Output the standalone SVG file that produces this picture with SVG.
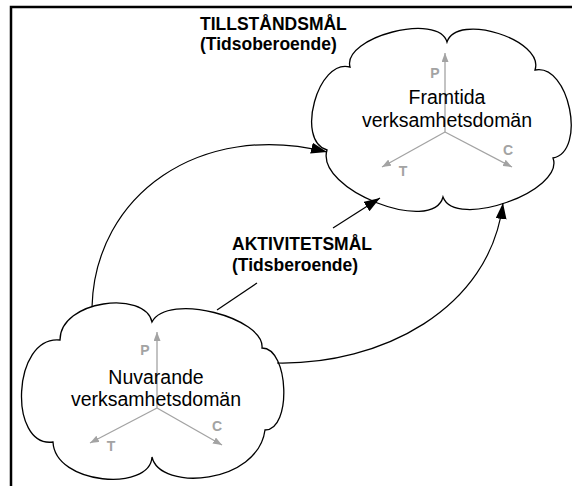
<svg xmlns="http://www.w3.org/2000/svg" width="572" height="486" viewBox="0 0 572 486">
  <style>
    .frame { fill: none; stroke: #000; stroke-width: 2.5; }
    .cloud { fill: #fff; stroke: #000; stroke-width: 1.3; stroke-linejoin: miter; }
    .conn { fill: none; stroke: #000; stroke-width: 1.2; marker-end: url(#head); }
    .axis { fill: none; stroke: #a3a3a3; stroke-width: 1.3; marker-end: url(#axhead); }
    .ax { font-family: "Liberation Sans", Arial, sans-serif; font-weight: bold; font-size: 14px; fill: #a3a3a3; text-anchor: middle; }
    .name { font-family: "Liberation Sans", Arial, sans-serif; font-size: 19.5px; fill: #000; text-anchor: middle; }
    .goal { font-family: "Liberation Sans", Arial, sans-serif; font-weight: bold; font-size: 17.5px; fill: #000; }
  </style>
  <defs>
    <marker id="head" markerUnits="userSpaceOnUse" markerWidth="16" markerHeight="11" refX="16" refY="5.5" orient="auto">
      <path d="M0,0 L16,5.5 L0,11 z" fill="#000"/>
    </marker>
    <marker id="axhead" markerUnits="userSpaceOnUse" markerWidth="9" markerHeight="7" refX="9" refY="3.5" orient="auto">
      <path d="M0,0 L9,3.5 L0,7 z" fill="#a3a3a3"/>
    </marker>
  </defs>

  <!-- page frame (top and left edges) -->
  <path class="frame" d="M11,486 V7 H572"/>

  <!-- future domain cloud -->
  <g id="framtida">
    <path class="cloud" d="M327,150 C295,141 318,58 350,67 C342,37 439,12 447,42 C457,12 545,40 535,70 C569,63 587,151 553,158 C565,191 455,230 443,197 C433,235 315,190 327,150 Z"/>
    <line class="axis" x1="445" y1="132" x2="445" y2="53"/>
    <line class="axis" x1="445" y1="132" x2="382" y2="167"/>
    <line class="axis" x1="445" y1="132" x2="512" y2="167"/>
    <text class="ax" x="435" y="78">P</text>
    <text class="ax" x="403" y="176">T</text>
    <text class="ax" x="508" y="155">C</text>
    <text class="name" x="447" y="104">Framtida</text>
    <text class="name" x="447" y="127">verksamhetsdomän</text>
  </g>

  <!-- current domain cloud -->
  <g id="nuvarande">
    <path class="cloud" d="M152,322 C168,292 265,318 262,348 C289,348 292,430 265,430 C258,484 160,492 152,457 C150,492 55,485 53,442 C8,448 12,335 60,340 C60,300 145,290 152,322 Z"/>
    <line class="axis" x1="157" y1="408" x2="157" y2="332"/>
    <line class="axis" x1="157" y1="408" x2="90" y2="443"/>
    <line class="axis" x1="157" y1="408" x2="222" y2="445"/>
    <text class="ax" x="145" y="355">P</text>
    <text class="ax" x="111" y="451">T</text>
    <text class="ax" x="217" y="431">C</text>
    <text class="name" x="156" y="384">Nuvarande</text>
    <text class="name" x="156" y="406">verksamhetsdomän</text>
  </g>

  <!-- goal connectors -->
  <g id="connectors">
    <path class="conn" d="M92,307 C95,195 200,120 327,152"/>
    <line x1="217" y1="310" x2="257" y2="283" stroke="#000" stroke-width="1.2"/>
    <line class="conn" x1="333" y1="228" x2="380" y2="198"/>
    <path class="conn" d="M277,363 C380,365 490,310 503,203"/>
  </g>

  <!-- goal labels -->
  <g id="labels">
    <text class="goal" x="200" y="30">TILLSTÅNDSMÅL</text>
    <text class="goal" x="200" y="50">(Tidsoberoende)</text>
    <text class="goal" x="232" y="250">AKTIVITETSMÅL</text>
    <text class="goal" x="232" y="271">(Tidsberoende)</text>
  </g>
</svg>
